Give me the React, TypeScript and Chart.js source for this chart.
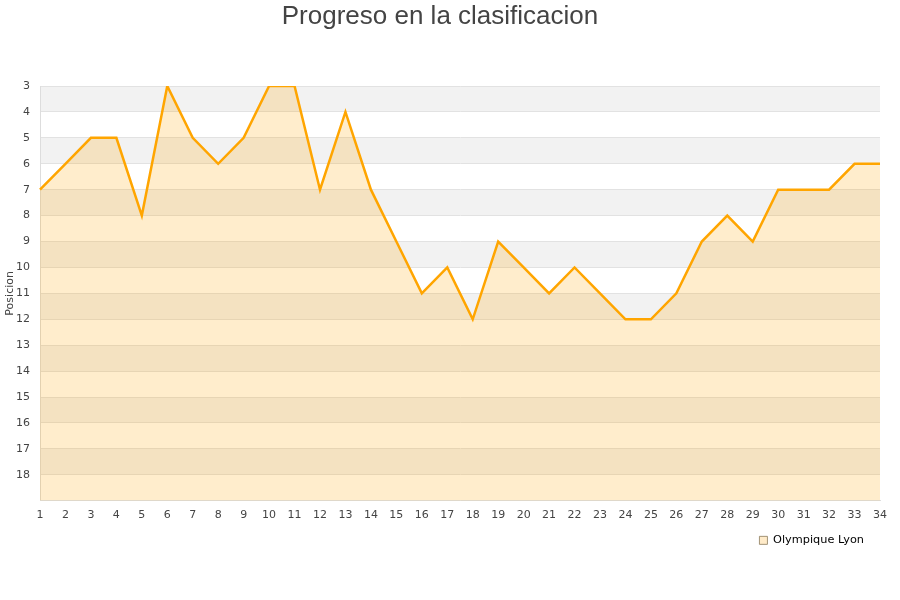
import { useEffect, useRef } from "react";
import { Chart, registerables } from "chart.js";

Chart.register(...registerables);

const jornadas: string[] = [
  "1", "2", "3", "4", "5", "6", "7", "8", "9", "10", "11", "12", "13", "14", "15", "16", "17",
  "18", "19", "20", "21", "22", "23", "24", "25", "26", "27", "28", "29", "30", "31", "32", "33", "34",
];
const posicionLyon: number[] = [
  7, 6, 5, 5, 8, 3, 5, 6, 5, 3, 3, 7, 4, 7, 9, 11, 10, 12, 9, 10, 11, 10, 11, 12, 12, 11, 9, 8, 9, 7, 7, 7, 6, 6,
];
const yMin = 3;
const yMax = 19;

// alternating gray/white bands behind the plot
const bandsPlugin = {
  id: "bands",
  beforeDraw(chart: any) {
    const { ctx, chartArea, scales } = chart;
    const y = scales.y;
    ctx.save();
    for (let v = yMin; v < yMax; v++) {
      const top = y.getPixelForValue(v);
      const bottom = y.getPixelForValue(v + 1);
      ctx.fillStyle = (v - yMin) % 2 === 0 ? "#f2f2f2" : "#ffffff";
      ctx.fillRect(chartArea.left, top, chartArea.right - chartArea.left, bottom - top);
    }
    ctx.restore();
  },
};

export default function App() {
  const canvasRef = useRef<HTMLCanvasElement | null>(null);
  const chartRef = useRef<Chart | null>(null);

  useEffect(() => {
    if (!canvasRef.current) return;
    if (chartRef.current) chartRef.current.destroy();

    chartRef.current = new Chart(canvasRef.current, {
      type: "line",
      data: {
        labels: jornadas,
        datasets: [
          {
            label: "Olympique Lyon",
            data: posicionLyon,
            borderColor: "#ffa500",
            backgroundColor: "rgba(255, 165, 0, 0.2)",
            borderWidth: 2.5,
            pointRadius: 0,
            tension: 0,
            fill: "start",
          },
        ],
      },
      options: {
        animation: false,
        responsive: false,
        maintainAspectRatio: false,
        layout: { padding: { left: 0, right: 20, top: 0, bottom: 44 } },
        plugins: {
          title: {
            display: true,
            text: "Progreso en la clasificacion",
            color: "#444444",
            font: { family: "'Liberation Sans', Arial, sans-serif", size: 26, weight: "normal" },
            padding: { top: 1, bottom: 53.8 },
          },
          legend: {
            position: "bottom",
            align: "end",
            labels: {
              color: "#222222",
              font: { family: "'DejaVu Sans', sans-serif", size: 11.3 },
              boxWidth: 8,
              boxHeight: 8,
              padding: 16,
              generateLabels: () => [
                {
                  text: "Olympique Lyon",
                  fillStyle: "#ffebc9",
                  strokeStyle: "#8a7a5a",
                  lineWidth: 0.8,
                  datasetIndex: 0,
                },
              ],
            },
          },
          tooltip: { enabled: false },
        },
        scales: {
          x: {
            offset: false,
            grid: { display: false, drawTicks: false },
            border: { display: true, color: "#dddddd" },
            ticks: {
              color: "#444444",
              font: { family: "'DejaVu Sans', sans-serif", size: 11 },
              maxRotation: 0,
              autoSkip: false,
              padding: 8,
            },
            afterFit: (axis: any) => {
              axis.height = 18;
            },
          },
          y: {
            reverse: true,
            min: yMin,
            max: yMax,
            grid: { color: "#e2e2e2", drawTicks: false },
            border: { display: true, color: "#dddddd" },
            ticks: {
              stepSize: 1,
              color: "#444444",
              font: { family: "'DejaVu Sans', sans-serif", size: 11 },
              padding: 10,
              callback: (v: any) => (v === yMax ? "" : String(v)),
            },
            title: {
              display: true,
              text: "Posicion",
              color: "#444444",
              font: { family: "'DejaVu Sans', sans-serif", size: 11 },
              padding: { top: 4, bottom: 0 },
            },
            afterFit: (axis: any) => {
              axis.width = 40;
            },
          },
        },
      },
      plugins: [bandsPlugin],
    });

    return () => {
      if (chartRef.current) {
        chartRef.current.destroy();
        chartRef.current = null;
      }
    };
  }, []);

  return (
    <div style={{ position: "fixed", left: 0, top: 0, width: 900, height: 600, background: "#ffffff" }}>
      <canvas ref={canvasRef} width={900} height={600} style={{ width: 900, height: 600 }} />
    </div>
  );
}
